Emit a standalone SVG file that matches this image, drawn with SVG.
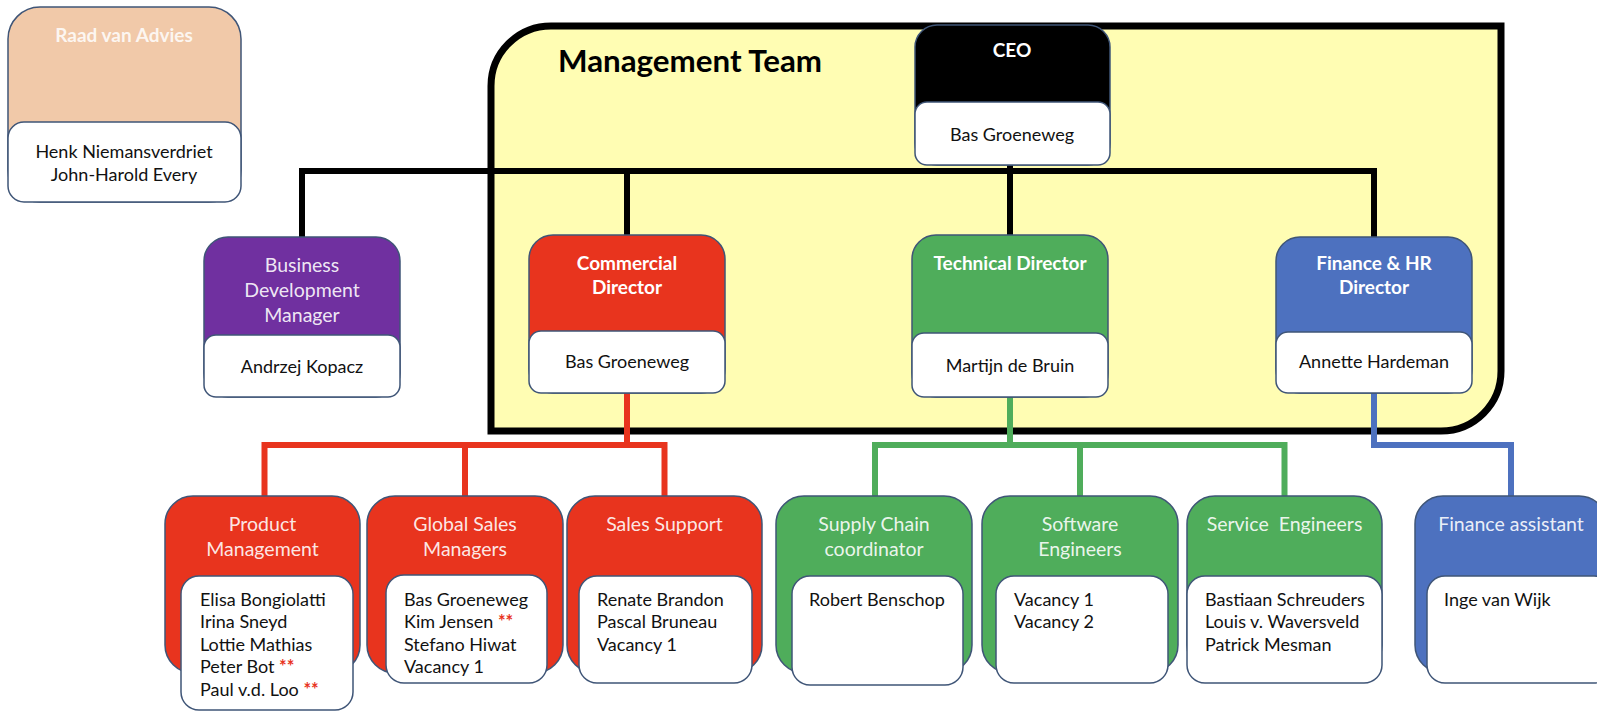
<svg xmlns="http://www.w3.org/2000/svg" width="1597" height="711" viewBox="0 0 1597 711">
<style>
 .bd{stroke:#3F5577;stroke-width:1.5}
 .w{fill:#fff}
 text{font-family:Lato,"Liberation Sans",sans-serif}
 .tb{font-weight:bold;fill:#fff;text-anchor:middle;font-size:19px}
 .tr{fill:#fff;fill-opacity:.9;text-anchor:middle;font-size:19.5px}
 .nm{fill:#111;font-size:18px}
 .c{text-anchor:middle}
 .st{fill:#E8341E;font-weight:bold}
 .ln{fill:none;stroke-width:6;stroke-linejoin:miter;stroke-linecap:butt}
 .red{fill:#E8341E}
 .grn{fill:#4FAD5B}
 .blu{fill:#4D71BF}
</style>
<rect width="1597" height="711" fill="#fff"/>
<g id="management-team">
 <path d="M491,86 A60,60 0 0 1 551,26 H1501 V371 A60,60 0 0 1 1441,431 H491 Z" fill="#FFFDB3" stroke="#000" stroke-width="7"/>
 <text x="558" y="72" font-size="31.3" font-weight="bold" fill="#000">Management Team</text>
</g>
<g id="connectors">
 <path class="ln" stroke="#000" d="M302,237 V171 H1374 V237 M627,171 V235 M1010,164 V235"/>
 <path class="ln" stroke="#E8341E" d="M627,393 V445 M264.5,496 V445 H664.5 V496 M465,445 V496"/>
 <path class="ln" stroke="#4FAD5B" d="M1010,397 V445 M875,496 V445 H1284.5 V496 M1080,445 V496"/>
 <path class="ln" stroke="#4D71BF" d="M1374,393 V445 H1511 V496"/>
</g>
<g id="raad-van-advies">
 <rect x="8" y="7" width="233" height="195" rx="32" fill="#F1C9A9" class="bd"/>
 <rect x="8" y="122" width="233" height="80" rx="16" class="w bd"/>
 <text x="124" y="42" class="tb" fill-opacity=".85">Raad van Advies</text>
 <text class="nm c" x="124" y="158">Henk Niemansverdriet</text>
 <text class="nm c" x="124" y="181">John-Harold Every</text>
</g>
<g id="ceo">
 <rect x="915" y="25" width="195" height="140" rx="22" fill="#000" class="bd"/>
 <rect x="915" y="102" width="195" height="63" rx="12" class="w bd"/>
 <text x="1012" y="57" class="tb">CEO</text>
 <text class="nm c" x="1012" y="141">Bas Groeneweg</text>
</g>
<g id="business-development">
 <rect x="204" y="237" width="196" height="160" rx="24" fill="#7030A0" class="bd"/>
 <rect x="204" y="335" width="196" height="62" rx="12" class="w bd"/>
 <text class="tr" x="302" y="272">Business</text>
 <text class="tr" x="302" y="297">Development</text>
 <text class="tr" x="302" y="322">Manager</text>
 <text class="nm c" x="302" y="373">Andrzej Kopacz</text>
</g>
<g id="commercial-director">
 <rect x="529" y="235" width="196" height="158" rx="24" class="red bd"/>
 <rect x="529" y="331" width="196" height="62" rx="12" class="w bd"/>
 <text class="tb" x="627" y="270">Commercial</text>
 <text class="tb" x="627" y="294">Director</text>
 <text class="nm c" x="627" y="368">Bas Groeneweg</text>
</g>
<g id="technical-director">
 <rect x="912" y="235" width="196" height="162" rx="24" class="grn bd"/>
 <rect x="912" y="333" width="196" height="64" rx="12" class="w bd"/>
 <text class="tb" x="1010" y="270">Technical Director</text>
 <text class="nm c" x="1010" y="372">Martijn de Bruin</text>
</g>
<g id="finance-hr-director">
 <rect x="1276" y="237" width="196" height="156" rx="24" class="blu bd"/>
 <rect x="1276" y="332" width="196" height="61" rx="12" class="w bd"/>
 <text class="tb" x="1374" y="270">Finance &amp; HR</text>
 <text class="tb" x="1374" y="294">Director</text>
 <text class="nm c" x="1374" y="368">Annette Hardeman</text>
</g>
<g id="product-management">
 <rect x="165" y="496" width="195" height="177" rx="28" class="red bd"/>
 <rect x="181" y="576" width="172" height="134" rx="18" class="w bd"/>
 <text class="tr" x="262.5" y="531">Product</text>
 <text class="tr" x="262.5" y="556">Management</text>
 <text class="nm" x="200" y="606">Elisa Bongiolatti</text>
 <text class="nm" x="200" y="628">Irina Sneyd</text>
 <text class="nm" x="200" y="651">Lottie Mathias</text>
 <text class="nm" x="200" y="673">Peter Bot <tspan class="st">**</tspan></text>
 <text class="nm" x="200" y="696">Paul v.d. Loo <tspan class="st">**</tspan></text>
</g>
<g id="global-sales-managers">
 <rect x="367" y="496" width="196" height="177" rx="28" class="red bd"/>
 <rect x="386" y="575" width="161" height="108" rx="18" class="w bd"/>
 <text class="tr" x="465" y="531">Global Sales</text>
 <text class="tr" x="465" y="556">Managers</text>
 <text class="nm" x="404" y="606">Bas Groeneweg</text>
 <text class="nm" x="404" y="628">Kim Jensen <tspan class="st">**</tspan></text>
 <text class="nm" x="404" y="651">Stefano Hiwat</text>
 <text class="nm" x="404" y="673">Vacancy 1</text>
</g>
<g id="sales-support">
 <rect x="567" y="496" width="195" height="177" rx="28" class="red bd"/>
 <rect x="579" y="576" width="173" height="107" rx="18" class="w bd"/>
 <text class="tr" x="664.5" y="531">Sales Support</text>
 <text class="nm" x="597" y="606">Renate Brandon</text>
 <text class="nm" x="597" y="628">Pascal Bruneau</text>
 <text class="nm" x="597" y="651">Vacancy 1</text>
</g>
<g id="supply-chain">
 <rect x="776" y="496" width="196" height="177" rx="28" class="grn bd"/>
 <rect x="792" y="576" width="171" height="109" rx="18" class="w bd"/>
 <text class="tr" x="874" y="531">Supply Chain</text>
 <text class="tr" x="874" y="556">coordinator</text>
 <text class="nm" x="809" y="606">Robert Benschop</text>
</g>
<g id="software-engineers">
 <rect x="982" y="496" width="196" height="177" rx="28" class="grn bd"/>
 <rect x="996" y="576" width="172" height="107" rx="18" class="w bd"/>
 <text class="tr" x="1080" y="531">Software</text>
 <text class="tr" x="1080" y="556">Engineers</text>
 <text class="nm" x="1014" y="606">Vacancy 1</text>
 <text class="nm" x="1014" y="628">Vacancy 2</text>
</g>
<g id="service-engineers">
 <rect x="1187" y="496" width="195" height="177" rx="28" class="grn bd"/>
 <rect x="1187" y="576" width="195" height="107" rx="18" class="w bd"/>
 <text class="tr" x="1284.5" y="531" style="white-space:pre">Service  Engineers</text>
 <text class="nm" x="1205" y="606">Bastiaan Schreuders</text>
 <text class="nm" x="1205" y="628">Louis v. Waversveld</text>
 <text class="nm" x="1205" y="651">Patrick Mesman</text>
</g>
<g id="finance-assistant">
 <rect x="1415" y="496" width="192" height="177" rx="28" class="blu bd"/>
 <rect x="1427" y="576" width="185" height="107" rx="18" class="w bd"/>
 <text class="tr" x="1511" y="531">Finance assistant</text>
 <text class="nm" x="1444" y="606">Inge van Wijk</text>
</g>
</svg>
